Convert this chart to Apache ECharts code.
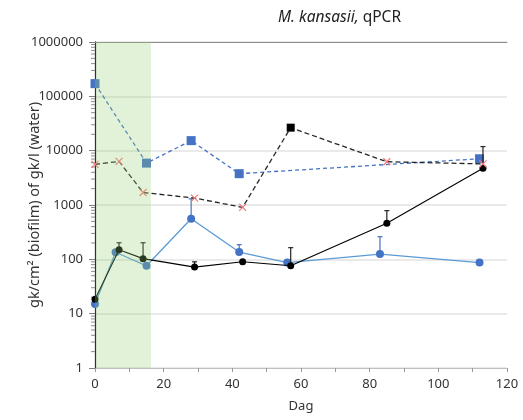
<!DOCTYPE html>
<html>
<head>
<meta charset="utf-8">
<script src="https://cdn.jsdelivr.net/npm/echarts@6/dist/echarts.min.js"></script>
<style>
  html, body { margin: 0; padding: 0; background: #fff; }
  #chart { width: 523px; height: 420px; }
</style>
</head>
<body>
<div id="chart"></div>
<script>
// Biofilm (gk/cm²), dashed blue squares
const biofilmDays = [0, 15, 28, 42, 112];
const biofilmVals = [171000, 5900, 15300, 3770, 7100];

// Water (gk/l), dashed black line with cross markers
const waterDays = [0, 7, 14, 29, 43, 57, 85, 113];
const waterVals = [5600, 6350, 1700, 1340, 905, 26500, 6250, 5700];

// Solid blue series with circles
const blueDays = [0, 6, 15, 28, 42, 56, 83, 112];
const blueVals = [15, 135, 76, 560, 136, 87, 125, 87];
const blueErrUpper = [null, null, null, 1300, 186, null, 261, null];

// Solid black series with circles
const blackDays = [0, 7, 14, 29, 43, 57, 85, 113];
const blackVals = [18.4, 150, 103, 72, 90, 76, 460, 4730];
const blackErrUpper = [19.8, 202, 202, 90, 96, 164, 787, 11900];

// Shaded period (days)
const shadeRange = [0, 16.3];

function pairs(xs, ys) { return xs.map((x, i) => [x, ys[i]]); }

const minorVals = [];
for (let k = 0; k < 6; k++) {
  for (let m = 2; m <= 9; m++) minorVals.push([0, m * Math.pow(10, k)]);
}

function errData(xs, ys, ups) {
  const out = [];
  xs.forEach((x, i) => { if (ups[i] != null) out.push([x, ys[i], ups[i]]); });
  return out;
}

function errRender(color) {
  return function (params, api) {
    const p0 = api.coord([api.value(0), api.value(1)]);
    const p1 = api.coord([api.value(0), api.value(2)]);
    const cap = 2.5;
    return {
      type: 'group',
      children: [
        { type: 'line', shape: { x1: p0[0], y1: p0[1], x2: p1[0], y2: p1[1] },
          style: { stroke: color, lineWidth: 1.2 } },
        { type: 'line', shape: { x1: p1[0] - cap, y1: p1[1], x2: p1[0] + cap, y2: p1[1] },
          style: { stroke: color, lineWidth: 1.2 } }
      ]
    };
  };
}

const crossPath = 'path://M0,0L10,10M10,0L0,10';
const waterData = waterDays.map((d, i) => {
  if (d === 57) {
    return { value: [d, waterVals[i]], symbol: 'rect', symbolSize: 8,
             itemStyle: { color: '#000', borderColor: '#000', borderWidth: 0 } };
  }
  return { value: [d, waterVals[i]] };
});

const chart = echarts.init(document.getElementById('chart'), null, { renderer: 'canvas' });
const font = 'Noto Sans';

chart.setOption({
  animation: false,
  title: {
    text: '{i|M. kansasii,} qPCR',
    left: 273, top: 5,
    textStyle: {
      fontFamily: font, fontSize: 15.5, fontWeight: 'normal', color: '#222',
      rich: { i: { fontFamily: font, fontSize: 15.5, fontStyle: 'italic', color: '#222' } }
    }
  },
  grid: { left: 95, right: 16, top: 42, bottom: 52, containLabel: false },
  xAxis: [{
    type: 'value', min: 0, max: 120, interval: 10,
    name: 'Dag', nameLocation: 'middle', nameGap: 32, nameMoveOverlap: false,
    nameTextStyle: { fontFamily: font, fontSize: 13, color: '#333' },
    axisLine: { show: true, lineStyle: { color: '#bfbfbf', width: 1 } },
    axisTick: { show: true, length: 4, lineStyle: { color: '#999' } },
    axisLabel: {
      fontFamily: font, fontSize: 13, color: '#333', margin: 10,
      formatter: v => (v % 20 === 0 ? String(v) : '')
    },
    splitLine: { show: false }
  }, {
    type: 'value', min: 0, max: 120, position: 'top',
    axisLine: { show: true, onZero: false, lineStyle: { color: '#8c8c8c', width: 1 } },
    axisTick: { show: false }, axisLabel: { show: false }, splitLine: { show: false }
  }],
  yAxis: [{
    type: 'log', logBase: 10, min: 1, max: 1000000,
    name: 'gk/cm² (biofilm) of gk/l (water)', nameLocation: 'middle', nameGap: 53,
    nameMoveOverlap: false,
    nameTextStyle: { fontFamily: font, fontSize: 14.5, color: '#333' },
    axisLine: { show: true, lineStyle: { color: '#595959', width: 1 } },
    axisTick: { show: true, length: 6, lineStyle: { color: '#7f7f7f' } },
    axisLabel: { fontFamily: font, fontSize: 13, color: '#333', margin: 12,
                 formatter: v => String(Math.round(v)) },
    splitLine: { show: true, lineStyle: { color: '#e3e3e3', width: 1.5 } }
  }, {
    type: 'log', logBase: 10, min: 1, max: 1000000, position: 'right',
    axisLine: { show: true, lineStyle: { color: '#000', width: 1.2 } },
    axisTick: { show: false }, axisLabel: { show: false }, splitLine: { show: false }
  }],
  series: [
    {
      // log-spaced minor ticks on the left axis
      type: 'custom', silent: true, z: 1,
      data: minorVals,
      renderItem: function (params, api) {
        const p = api.coord([api.value(0), api.value(1)]);
        return { type: 'line', shape: { x1: p[0] - 4, y1: p[1], x2: p[0], y2: p[1] },
                 style: { stroke: '#8c8c8c', lineWidth: 1 } };
      }
    },
    {
      type: 'line', name: 'blue', z: 3,
      data: pairs(blueDays, blueVals),
      symbol: 'circle', symbolSize: 8, showAllSymbol: true,
      lineStyle: { color: '#5b9bd5', width: 1.3 },
      itemStyle: { color: '#4472c4' }
    },
    {
      type: 'custom', z: 3, data: errData(blueDays, blueVals, blueErrUpper),
      renderItem: errRender('#4472c4')
    },
    {
      type: 'line', name: 'black', z: 4,
      data: pairs(blackDays, blackVals),
      symbol: 'circle', symbolSize: 7, showAllSymbol: true,
      lineStyle: { color: '#000', width: 1.1 },
      itemStyle: { color: '#000' }
    },
    {
      type: 'custom', z: 4, data: errData(blackDays, blackVals, blackErrUpper),
      renderItem: errRender('#222')
    },
    {
      type: 'line', name: 'biofilm', z: 3,
      data: pairs(biofilmDays, biofilmVals),
      symbol: 'rect', symbolSize: 9, showAllSymbol: true,
      lineStyle: { color: '#4472c4', width: 1.3, type: [4, 3] },
      itemStyle: { color: '#4472c4' }
    },
    {
      type: 'line', name: 'water', z: 5,
      data: waterData,
      symbol: crossPath, symbolSize: 7, showAllSymbol: true, clip: false,
      lineStyle: { color: '#262626', width: 1.3, type: [5, 3] },
      itemStyle: { color: 'rgba(0,0,0,0)', borderColor: '#f4787c', borderWidth: 1.2 }
    },
    {
      // translucent shaded period drawn over the series
      type: 'custom', z: 20, silent: true,
      data: [[shadeRange[0], shadeRange[1]]],
      renderItem: function (params, api) {
        const a = api.coord([api.value(0), 1000000]);
        const b = api.coord([api.value(1), 1]);
        return { type: 'rect', z2: 100,
                 shape: { x: a[0], y: a[1], width: b[0] - a[0], height: b[1] - a[1] },
                 style: { fill: 'rgba(150,207,114,0.28)' } };
      }
    }
  ]
});
</script>
</body>
</html>
